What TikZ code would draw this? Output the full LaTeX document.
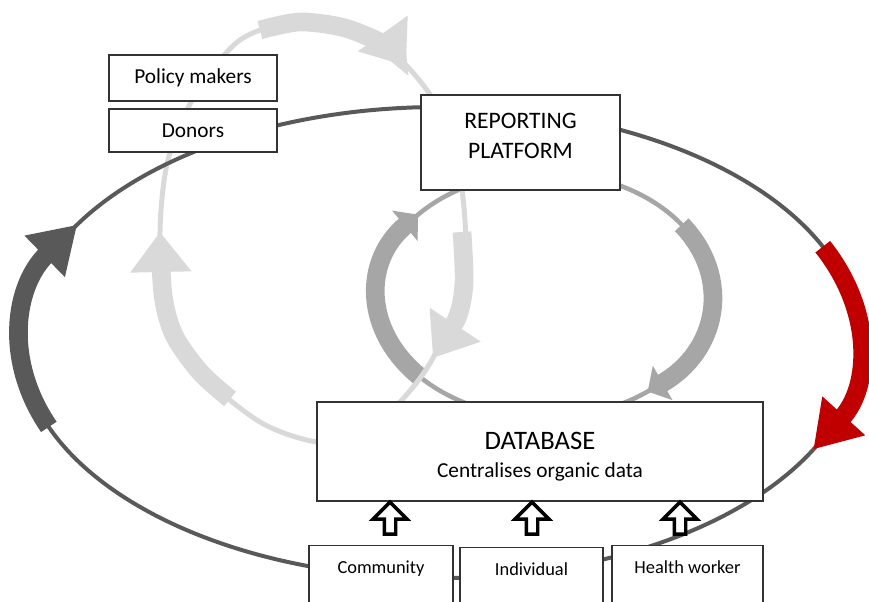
\documentclass[tikz,border=0pt]{standalone}
\usepackage{fontspec}
\setmainfont{Carlito}
\usetikzlibrary{arrows.meta,shapes.arrows}
\definecolor{loopdark}{HTML}{595959}
\definecolor{loopmid}{HTML}{A6A6A6}
\definecolor{looplight}{HTML}{D9D9D9}
\definecolor{loopred}{HTML}{C00000}
\tikzset{
  box/.style={draw=black!80, line width=0.9pt, fill=white, inner sep=0pt},
  srcbox/.style={box, anchor=north, text height=21pt, text depth=35pt, font=\fontsize{13.8}{16}\selectfont},
  thickloop/.style={line width=14pt},
  bighead/.style={-{Triangle[width=41pt,length=34pt]}},
  lighthead/.style={-{Triangle[width=44pt,length=30pt]}},
  smallhead/.style={-{Triangle[width=29pt,length=13pt]}},
  upblock/.style={single arrow, draw=black, line width=2.6pt, fill=white, rotate=90,
    minimum height=24pt, inner xsep=0pt, inner ysep=3pt, single arrow head extend=8.4pt}
}
\begin{document}
\begin{tikzpicture}[x=0.75pt, y=0.75pt]
  \useasboundingbox (0,0) rectangle (869,-602);
  \coordinate (outer) at (440,-342.5);
  \coordinate (inner) at (544.5,-295);

  \draw[loopmid, line width=3.4pt] (inner) ellipse [x radius=167.5, y radius=122.5];
  \draw[loopmid, thickloop, smallhead] (inner) ++(222:167.5 and 122.5)
    arc[start angle=222, end angle=139, x radius=167.5, y radius=122.5];
  \draw[loopmid, thickloop, smallhead] (inner) ++(35:167.5 and 122.5)
    arc[start angle=35, end angle=-52, x radius=167.5, y radius=122.5];

  \draw[looplight, line width=3.75pt] plot[smooth cycle] coordinates {
    (317,-442) (260,-422) (200,-372) (166,-310) (160,-232) (168,-160) (195,-95)
    (240,-40) (300,-21) (362,-32) (405,-64) (440,-112) (462,-190) (464,-283)
    (433,-358) (400,-402) (360,-435)};
  \draw[looplight, thickloop, lighthead] plot[smooth] coordinates {
    (230,-399) (200,-372) (174,-335) (163,-295) (160,-232)};
  \draw[looplight, thickloop, lighthead] plot[smooth] coordinates {
    (260,-30) (300,-22) (345,-28) (387,-46) (406,-66)};
  \draw[looplight, thickloop, lighthead] plot[smooth] coordinates {
    (462,-232) (464,-283) (457,-318) (433,-358)};

  \draw[loopdark, line width=3pt] (outer) ellipse [x radius=419, y radius=235.5];
  \draw[loopdark, thickloop, bighead] (outer) ++(201:419 and 235.5)
    arc[start angle=201, end angle=150, x radius=419, y radius=235.5];
  \draw[loopred, thickloop, bighead] (outer) ++(24:419 and 235.5)
    arc[start angle=24, end angle=-27, x radius=419, y radius=235.5];

  \node[box, minimum width=126pt, minimum height=34.5pt, font=\fontsize{16}{18}\selectfont]
    (policy) at (193,-78) {Policy makers};
  \node[box, minimum width=126pt, minimum height=32.25pt, font=\fontsize{16}{18}\selectfont]
    (donors) at (193,-130.5) {Donors};
  \node[box, minimum width=149.25pt, minimum height=71.25pt] (plat) at (520.5,-142.5) {};
  \node[align=center, font=\fontsize{17.7}{22}\selectfont] (platText) at (520.5,-136) {REPORTING\\PLATFORM};
  \node[box, minimum width=334.5pt, minimum height=74.25pt] (db) at (540,-451.5) {};
  \node[align=center, font=\fontsize{16}{20}\selectfont] (dbText) at (540,-457)
    {{\fontsize{20}{22}\selectfont DATABASE}\\[1pt]Centralises organic data};

  \node[srcbox, minimum width=108pt] (comm) at (381,-545) {Community};
  \node[srcbox, minimum width=107.25pt] (indiv) at (531.5,-547) {Individual};
  \node[srcbox, minimum width=113.25pt] (health) at (687.5,-545) {Health worker};

  \node[upblock] (commUp) at (390,-521) {};
  \node[upblock] (indivUp) at (532,-521) {};
  \node[upblock] (healthUp) at (680,-521) {};
\end{tikzpicture}
\end{document}
